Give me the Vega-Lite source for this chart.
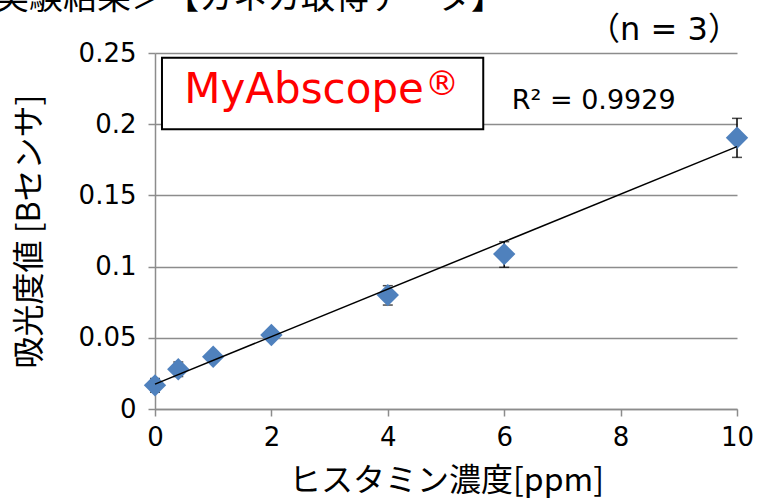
{
  "$schema": "https://vega.github.io/schema/vega-lite/v6.json",
  "autosize": {"type": "none"},
  "width": 582,
  "height": 356,
  "padding": {"left": 155, "top": 53, "right": 22, "bottom": 92},
  "background": "white",
  "config": {
    "view": {"stroke": null},
    "font": "Noto Sans CJK JP",
    "axis": {"labelFont": "DejaVu Sans", "titleFont": "Noto Sans CJK JP", "titleFontWeight": "normal", "labelColor": "black", "titleColor": "black"}
  },
  "datasets": {
    "pts": [
      {"conc": 0, "abs": 0.0166, "lo": 0.0118, "hi": 0.0214},
      {"conc": 0.4, "abs": 0.0279, "lo": 0.0228, "hi": 0.0330},
      {"conc": 1, "abs": 0.0367, "lo": 0.0345, "hi": 0.0389},
      {"conc": 2, "abs": 0.0520, "lo": 0.0490, "hi": 0.0550},
      {"conc": 4, "abs": 0.0800, "lo": 0.0730, "hi": 0.0866},
      {"conc": 6, "abs": 0.1088, "lo": 0.0995, "hi": 0.1175},
      {"conc": 10, "abs": 0.1905, "lo": 0.1767, "hi": 0.2041}
    ],
    "box": [{"x1": 0.12, "x2": 5.64, "y1": 0.1965, "y2": 0.2467}],
    "labels": [
      {"kind": "brand", "tx": 4.62, "ty": 0.2149, "label": "MyAbscope"},
      {"kind": "reg", "tx": 4.64, "ty": 0.2275, "label": "®"},
      {"kind": "r2", "tx": 6.13, "ty": 0.2165, "label": "R² = 0.9929"},
      {"kind": "n", "tx": 10.05, "ty": 0.2665, "label": "（n = 3）"},
      {"kind": "head", "tx": -2.75, "ty": 0.2809, "label": "実験結果＞【カネカ取得データ】"}
    ]
  },
  "layer": [
    {
      "data": {"name": "pts"},
      "mark": {"type": "point", "opacity": 0},
      "encoding": {
        "x": {"field": "conc", "type": "quantitative", "scale": {"domain": [0, 10], "nice": false},
          "axis": {"title": "ヒスタミン濃度[ppm]", "values": [0, 2, 4, 6, 8, 10], "format": "~g", "labelFlush": false, "labelOverlap": false, "grid": false, "domainColor": "#8c8c8c", "domainWidth": 1.5, "tickColor": "#8c8c8c", "tickWidth": 1.5, "tickSize": 7, "labelFontSize": 26, "labelPadding": 8, "titleFontSize": 32, "titlePadding": 15}},
        "y": {"field": "abs", "type": "quantitative", "scale": {"domain": [0, 0.25], "nice": false},
          "axis": {"title": "吸光度値 [Bセンサ]", "values": [0, 0.05, 0.1, 0.15, 0.2, 0.25], "format": "~g", "labelFlush": false, "labelOverlap": false, "grid": true, "gridColor": "#8c8c8c", "gridWidth": 1.5, "domainColor": "#8c8c8c", "domainWidth": 1.5, "tickColor": "#8c8c8c", "tickWidth": 1.5, "tickSize": 7, "labelFontSize": 26, "labelPadding": 12, "titleFontSize": 32, "titlePadding": 32}}
      }
    },
    {
      "data": {"name": "box"},
      "mark": {"type": "rect", "fill": "white", "stroke": "black", "strokeWidth": 2},
      "encoding": {
        "x": {"field": "x1", "type": "quantitative"},
        "x2": {"field": "x2"},
        "y": {"field": "y1", "type": "quantitative"},
        "y2": {"field": "y2"}
      }
    },
    {
      "data": {"name": "pts"},
      "mark": {"type": "rule", "color": "black", "strokeWidth": 1.5},
      "encoding": {
        "x": {"field": "conc", "type": "quantitative"},
        "y": {"field": "lo", "type": "quantitative"},
        "y2": {"field": "hi"}
      }
    },
    {
      "data": {"name": "pts"},
      "mark": {"type": "tick", "orient": "horizontal", "color": "black", "size": 10, "thickness": 1.5},
      "encoding": {
        "x": {"field": "conc", "type": "quantitative"},
        "y": {"field": "lo", "type": "quantitative"}
      }
    },
    {
      "data": {"name": "pts"},
      "mark": {"type": "tick", "orient": "horizontal", "color": "black", "size": 10, "thickness": 1.5},
      "encoding": {
        "x": {"field": "conc", "type": "quantitative"},
        "y": {"field": "hi", "type": "quantitative"}
      }
    },
    {
      "data": {"name": "pts"},
      "mark": {"type": "point", "shape": "diamond", "filled": true, "color": "#4F81BD", "opacity": 1, "size": 500},
      "encoding": {
        "x": {"field": "conc", "type": "quantitative"},
        "y": {"field": "abs", "type": "quantitative"}
      }
    },
    {
      "data": {"name": "pts"},
      "transform": [{"regression": "abs", "on": "conc", "extent": [0, 10]}],
      "mark": {"type": "line", "color": "black", "strokeWidth": 1.5},
      "encoding": {
        "x": {"field": "conc", "type": "quantitative"},
        "y": {"field": "abs", "type": "quantitative"}
      }
    },
    {
      "data": {"name": "labels"},
      "transform": [{"filter": "datum.kind === 'brand'"}],
      "mark": {"type": "text", "color": "#FF0000", "font": "DejaVu Sans", "fontSize": 42, "align": "right", "baseline": "alphabetic"},
      "encoding": {
        "x": {"field": "tx", "type": "quantitative"},
        "y": {"field": "ty", "type": "quantitative"},
        "text": {"field": "label"}
      }
    },
    {
      "data": {"name": "labels"},
      "transform": [{"filter": "datum.kind === 'reg'"}],
      "mark": {"type": "text", "color": "#FF0000", "font": "DejaVu Sans", "fontSize": 34, "align": "left", "baseline": "middle"},
      "encoding": {
        "x": {"field": "tx", "type": "quantitative"},
        "y": {"field": "ty", "type": "quantitative"},
        "text": {"field": "label"}
      }
    },
    {
      "data": {"name": "labels"},
      "transform": [{"filter": "datum.kind === 'r2'"}],
      "mark": {"type": "text", "color": "black", "font": "DejaVu Sans", "fontSize": 27, "align": "left", "baseline": "middle"},
      "encoding": {
        "x": {"field": "tx", "type": "quantitative"},
        "y": {"field": "ty", "type": "quantitative"},
        "text": {"field": "label"}
      }
    },
    {
      "data": {"name": "labels"},
      "transform": [{"filter": "datum.kind === 'n'"}],
      "mark": {"type": "text", "color": "black", "font": "DejaVu Sans, Noto Sans CJK JP", "fontSize": 32, "align": "right", "baseline": "middle"},
      "encoding": {
        "x": {"field": "tx", "type": "quantitative"},
        "y": {"field": "ty", "type": "quantitative"},
        "text": {"field": "label"}
      }
    },
    {
      "data": {"name": "labels"},
      "transform": [{"filter": "datum.kind === 'head'"}],
      "mark": {"type": "text", "color": "black", "fontSize": 34, "align": "left", "baseline": "alphabetic"},
      "encoding": {
        "x": {"field": "tx", "type": "quantitative"},
        "y": {"field": "ty", "type": "quantitative"},
        "text": {"field": "label"}
      }
    }
  ]
}
